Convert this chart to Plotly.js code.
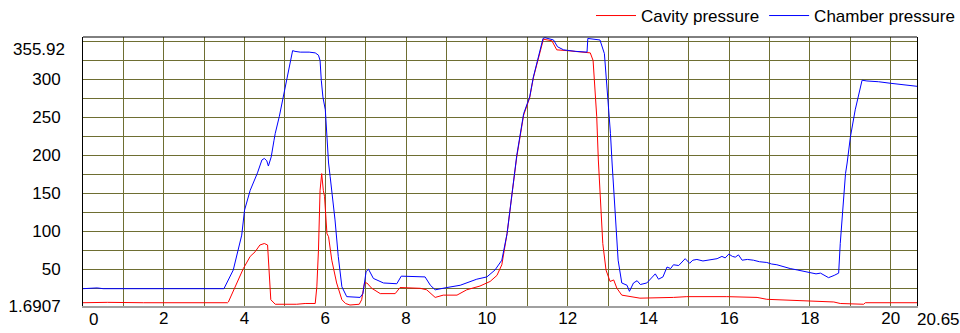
<!DOCTYPE html>
<html>
<head>
<meta charset="utf-8">
<script src="https://cdn.plot.ly/plotly-3.0.1.min.js"></script>
<style>
  html, body { margin: 0; padding: 0; background: #ffffff; }
  #chart { width: 960px; height: 333px; }
</style>
</head>
<body>
<div id="chart"></div>
<script>
// Pressure traces over one cycle (time on x, pressure on y)
const chamberTime = [0, 0.35, 0.5, 1.5, 2.5, 3.0, 3.1, 3.3, 3.49, 3.72, 3.93, 4.0, 4.14, 4.32, 4.43, 4.49, 4.55, 4.59, 4.66, 4.73, 4.76, 4.86, 4.95, 5.0, 5.08, 5.19, 5.25, 5.38, 5.6, 5.75, 5.83, 5.87, 5.9, 5.94, 6.0, 6.08, 6.12, 6.24, 6.32, 6.41, 6.53, 6.7, 6.86, 6.93, 7.01, 7.07, 7.19, 7.44, 7.77, 7.88, 8.18, 8.47, 8.6, 8.72, 9.01, 9.34, 9.75, 10.0, 10.2, 10.37, 10.5, 10.62, 10.74, 10.91, 11.06, 11.15, 11.28, 11.39, 11.44, 11.65, 11.75, 11.9, 12.2, 12.48, 12.5, 12.8, 12.91, 12.99, 13.06, 13.1, 13.18, 13.25, 13.34, 13.47, 13.53, 13.63, 13.72, 13.8, 13.96, 14.17, 14.25, 14.36, 14.46, 14.55, 14.62, 14.75, 14.91, 15.02, 15.1, 15.2, 15.35, 15.53, 15.7, 15.82, 15.9, 15.99, 16.08, 16.15, 16.23, 16.32, 16.45, 16.6, 16.75, 16.93, 17.05, 17.18, 17.35, 17.51, 17.7, 17.85, 18.01, 18.15, 18.26, 18.46, 18.6, 18.71, 18.75, 18.81, 18.88, 18.92, 19.0, 19.12, 19.2, 19.29, 19.41, 19.7, 19.99, 20.4, 20.65];
const chamberPressure = [24.5, 25.5, 24.5, 24.5, 24.5, 25, 24.5, 24.5, 24.5, 49, 95, 128, 154, 177, 194, 196, 193, 186, 198, 220, 229, 251, 275, 292, 312, 338, 337, 336, 336, 335, 332, 325, 299, 277, 260, 190, 172, 115, 67, 27, 14, 13, 13, 18, 47, 50, 38, 32, 31, 41, 40, 40, 29, 23, 26, 29, 37, 40, 49, 62, 97, 150, 200, 255, 277, 303, 330, 354, 355, 352, 343, 339, 337, 336, 354, 352, 334, 282, 229, 190, 128, 62, 32, 29, 21, 32, 35, 30, 32, 44, 37, 40, 53, 51, 56, 55, 64, 58, 62, 63, 61, 63, 64, 67, 65, 70, 67, 66, 69, 62, 63, 62, 60, 59, 57, 56, 53, 51, 49, 47, 45, 44, 45, 39, 42, 45, 84, 128, 176, 190, 224, 260, 279, 299, 298, 297, 295, 292, 291];

const cavityTime = [0, 0.6, 1.5, 2.5, 3.58, 3.6, 3.81, 3.97, 4.14, 4.26, 4.38, 4.49, 4.57, 4.61, 4.65, 4.76, 5.29, 5.5, 5.75, 5.79, 5.83, 5.87, 5.91, 5.95, 5.98, 6.04, 6.08, 6.16, 6.28, 6.41, 6.5, 6.61, 6.84, 6.9, 6.97, 7.03, 7.15, 7.36, 7.73, 7.85, 8.35, 8.51, 8.72, 8.92, 9.26, 9.5, 9.83, 10.08, 10.25, 10.37, 10.5, 10.62, 10.74, 10.91, 11.06, 11.15, 11.28, 11.4, 11.61, 11.73, 11.98, 12.48, 12.56, 12.63, 12.68, 12.72, 12.76, 12.81, 12.87, 12.95, 13.05, 13.14, 13.22, 13.34, 13.59, 13.79, 14.62, 14.95, 15.94, 16.69, 16.93, 17.92, 18.59, 18.75, 19.33, 19.37, 20.65];
const cavityPressure = [6, 6.5, 6, 6, 6, 7, 32, 51, 67, 73, 82, 84, 82, 45, 10, 4, 4, 5, 5, 27, 75, 154, 176, 154, 146, 97, 93, 62, 32, 10, 5, 3, 4, 10, 32, 32, 25, 18, 18, 26, 25, 23, 13, 16, 16, 23, 28, 34, 42, 56, 97, 148, 198, 253, 276, 302, 329, 353, 351, 339, 338, 336, 335, 325, 279, 251, 194, 150, 84, 49, 34, 36, 25, 16, 14, 12, 13, 14, 14, 13, 10.5, 9, 7, 5, 4, 6, 6];

// Axis extents and labels
const timeRange = [0, 20.65];
const pressureRange = [1.6907, 355.92];
const timeGrid = [1, 2, 3, 4, 5, 6, 7, 8, 9, 10, 11, 12, 13, 14, 15, 16, 17, 18, 19, 20];
const timeLabels = ['', '2', '', '4', '', '6', '', '8', '', '10', '', '12', '', '14', '', '16', '', '18', '', '20'];
const pressureGrid = [1.6907, 25, 50, 75, 100, 125, 150, 175, 200, 225, 250, 275, 300, 325, 350];
const pressureLabels = ['1.6907', '', '50', '', '100', '', '150', '', '200', '', '250', '', '300', '', ''];
const edgeLabels = { timeStart: '0', timeEnd: '20.65', pressureTop: '355.92' };

const font = 'Arial, "Liberation Sans", sans-serif';
const gridColor = '#6e6e32';

const traces = [
  {
    x: cavityTime, y: cavityPressure, type: 'scatter', mode: 'lines',
    name: 'Cavity pressure', line: { color: '#ff0000', width: 1 }
  },
  {
    x: chamberTime, y: chamberPressure, type: 'scatter', mode: 'lines',
    name: 'Chamber pressure', line: { color: '#0000ff', width: 1 }
  }
];

const layout = {
  width: 960, height: 333,
  margin: { l: 83, r: 43, t: 37, b: 27, pad: 0, autoexpand: false },
  paper_bgcolor: '#ffffff', plot_bgcolor: '#ffffff',
  font: { family: font, size: 17, color: '#000000' },
  showlegend: true,
  legend: {
    orientation: 'h', xref: 'container', yref: 'paper',
    x: 1, xanchor: 'right', y: 1.145, yanchor: 'top',
    itemwidth: 40,
    font: { family: font, size: 17, color: '#000000' },
    bgcolor: 'rgba(0,0,0,0)'
  },
  xaxis: {
    range: timeRange, tickmode: 'array', tickvals: timeGrid, ticktext: timeLabels,
    showgrid: true, gridcolor: gridColor, gridwidth: 1, zeroline: false,
    showline: true, linecolor: '#a0a0a0', linewidth: 2,
    ticks: '', ticklabelstandoff: -4,
    tickfont: { family: font, size: 17, color: '#000000' }
  },
  yaxis: {
    range: pressureRange, tickmode: 'array', tickvals: pressureGrid, ticktext: pressureLabels,
    showgrid: true, gridcolor: gridColor, gridwidth: 1, zeroline: false,
    showline: true, linecolor: '#000000', linewidth: 1, mirror: true,
    ticks: '', ticklabelstandoff: 18,
    tickfont: { family: font, size: 17, color: '#000000' }
  },
  shapes: [
    { type: 'line', xref: 'paper', yref: 'paper', x0: 0, x1: 1, y0: 1, y1: 1,
      line: { color: '#000000', width: 1 } }
  ],
  annotations: [
    { text: edgeLabels.timeStart, xref: 'x', x: timeRange[0], yref: 'paper', y: 0,
      xanchor: 'left', yanchor: 'top', xshift: 4, yshift: -2, showarrow: false,
      font: { family: font, size: 17, color: '#000000' } },
    { text: edgeLabels.timeEnd, xref: 'x', x: timeRange[1], yref: 'paper', y: 0,
      xanchor: 'left', yanchor: 'top', xshift: -2, yshift: -2, showarrow: false,
      font: { family: font, size: 17, color: '#000000' } },
    { text: edgeLabels.pressureTop, xref: 'paper', x: 0, yref: 'y', y: pressureRange[1],
      xanchor: 'right', yanchor: 'middle', xshift: -16, yshift: -12, showarrow: false,
      font: { family: font, size: 17, color: '#000000' } }
  ],
  hovermode: false
};

Plotly.newPlot('chart', traces, layout, { displayModeBar: false, staticPlot: true });
</script>
</body>
</html>
